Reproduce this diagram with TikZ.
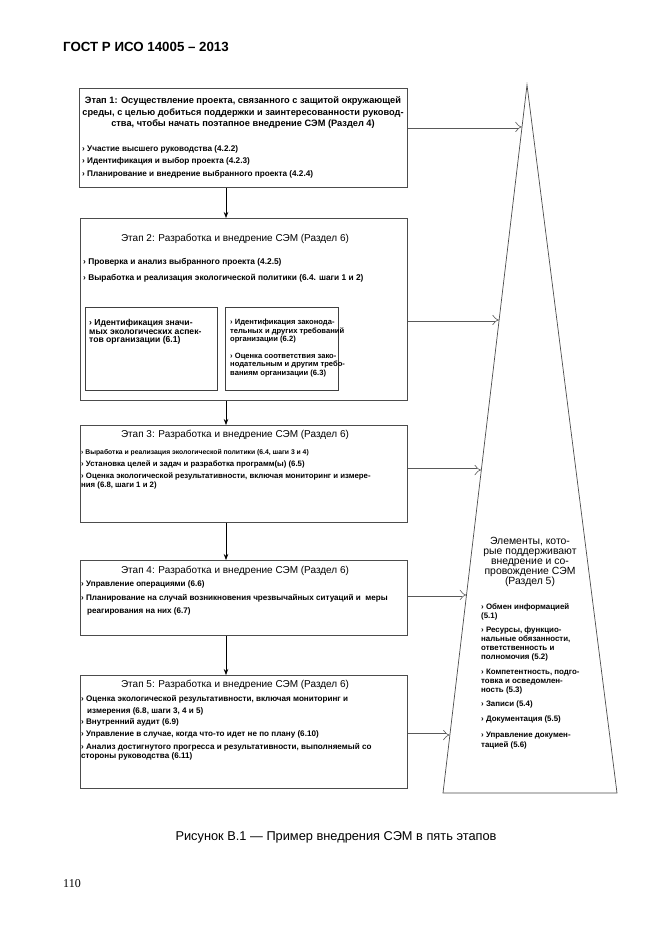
\documentclass[tikz,border=0pt]{standalone}
\usepackage{fontspec}
\setmainfont{Liberation Sans}
\newfontfamily\pnserif{Liberation Serif}
\usetikzlibrary{arrows.meta,calc}
\newcommand\fsb[1]{\fontsize{#1}{9}\selectfont\bfseries}
\begin{document}
\begin{tikzpicture}[x=1pt,y=-1pt,
  box/.style={draw=black!70,line width=0.9pt,fill=white,anchor=north west,inner sep=0},
  sbox/.style={draw=black!75,line width=1.1pt,anchor=north west,inner sep=0},
  tl/.style={anchor=west,inner sep=0,font=\fsb{8.1}},
  tt/.style={anchor=center,inner sep=0,font=\fontsize{10}{12}\selectfont},
  darr/.style={draw=black,line width=0.7pt,-{Stealth[length=6pt,width=4.5pt]}},
  harr/.style={draw=black!65,double,double distance=3pt,line width=0.6pt,-{Implies[length=5pt,width=9pt]}},
  tri/.style={draw=black!70,line width=0.7pt},
]
\useasboundingbox[fill=white] (0,0) rectangle (661,936);

% header
\node[anchor=west,inner sep=0,font=\fontsize{13.3}{15}\selectfont\bfseries] (hdr) at (63,47) {ГОСТ Р ИСО 14005 – 2013};

% boxes
\node[box,minimum width=328pt,minimum height=99pt] (b1) at (79,88) {};
\node[box,minimum width=327pt,minimum height=182pt] (b2) at (80,218) {};
\node[box,minimum width=327pt,minimum height=97pt] (b3) at (80,425) {};
\node[box,minimum width=327pt,minimum height=75pt] (b4) at (80,560) {};
\node[box,minimum width=327pt,minimum height=113pt] (b5) at (80,675) {};
\node[sbox,minimum width=132pt,minimum height=83pt] (sl) at (85,307) {};
\node[sbox,minimum width=113pt,minimum height=83pt] (sr) at (225,307) {};

% triangle
\coordinate (apex) at (527,85);
\coordinate (tbl) at (443,793);
\coordinate (tbr) at (617,793);
\draw[tri] (apex) -- (tbl) -- (tbr) -- cycle;

% box 1 text
\node[anchor=center,inner sep=0,align=center,font=\fontsize{9.25}{11.5}\selectfont\bfseries] (b1t) at (243,113)
  {Этап 1: Осуществление проекта, связанного с защитой окружающей\\
   среды, с целью добиться поддержки и заинтересованности руковод-\\
   ства, чтобы начать поэтапное внедрение СЭМ (Раздел 4)};
\node[tl,font=\fsb{8.2}] (b1i1) at (82,149) {› Участие высшего руководства (4.2.2)};
\node[tl,font=\fsb{8.2}] (b1i2) at (82,161) {› Идентификация и выбор проекта (4.2.3)};
\node[tl,font=\fsb{8.2}] (b1i3) at (82,174) {› Планирование и внедрение выбранного проекта (4.2.4)};

% box 2 text
\node[tt] (b2t) at (235,239) {Этап 2: Разработка и внедрение СЭМ (Раздел 6)};
\node[tl,font=\fsb{8.35}] (b2i1) at (83,262) {› Проверка и анализ выбранного проекта (4.2.5)};
\node[tl,font=\fsb{8.35}] (b2i2) at (83,278) {› Выработка и реализация экологической политики (6.4. шаги 1 и 2)};
\node[anchor=north west,inner sep=0,align=left,font=\fontsize{8.6}{8.6}\selectfont\bfseries] (slt) at (89,319)
  {› Идентификация значи-\\мых экологических аспек-\\тов организации (6.1)};
\node[anchor=north west,inner sep=0,align=left,font=\fontsize{7.6}{8.4}\selectfont\bfseries] (srt1) at (230,319)
  {› Идентификация законода-\\тельных и других требований\\организации (6.2)};
\node[anchor=north west,inner sep=0,align=left,font=\fontsize{7.6}{8.4}\selectfont\bfseries] (srt2) at (230,353)
  {› Оценка соответствия зако-\\нодательным и другим требо-\\ваниям организации (6.3)};

% box 3 text
\node[tt] (b3t) at (235,435) {Этап 3: Разработка и внедрение СЭМ (Раздел 6)};
\node[tl,font=\fsb{6.8}] (b3i1) at (81,453) {› Выработка и реализация экологической политики (6.4, шаги 3 и 4)};
\node[tl,font=\fsb{7.8}] (b3i2) at (81,464) {› Установка целей и задач и разработка программ(ы) (6.5)};
\node[tl,font=\fsb{7.8}] (b3i3) at (81,476) {› Оценка экологической результативности, включая мониторинг и измере-};
\node[tl,font=\fsb{7.8}] (b3i3b) at (81,485) {ния (6.8, шаги 1 и 2)};

% box 4 text
\node[tt] (b4t) at (235,571) {Этап 4: Разработка и внедрение СЭМ (Раздел 6)};
\node[tl] (b4i1) at (81,584) {› Управление операциями (6.6)};
\node[tl] (b4i2) at (81,598) {› Планирование на случай возникновения чрезвычайных ситуаций и\ \ меры};
\node[tl] (b4i2b) at (87,611) {реагирования на них (6.7)};

% box 5 text
\node[tt] (b5t) at (235,685) {Этап 5: Разработка и внедрение СЭМ (Раздел 6)};
\node[tl] (b5i1) at (81,699) {› Оценка экологической результативности, включая мониторинг и};
\node[tl] (b5i1b) at (87,711) {измерения (6.8, шаги 3, 4 и 5)};
\node[tl] (b5i2) at (81,722) {› Внутренний аудит (6.9)};
\node[tl] (b5i3) at (81,734) {› Управление в случае, когда что-то идет не по плану (6.10)};
\node[tl] (b5i4) at (81,747) {› Анализ достигнутого прогресса и результативности, выполняемый со};
\node[tl] (b5i4b) at (81,756) {стороны руководства (6.11)};

% triangle text
\node[anchor=center,inner sep=0,align=center,font=\fontsize{10.4}{10}\selectfont] (trt) at (530,562)
  {Элементы, кото-\\рые поддерживают\\внедрение и со-\\провождение СЭМ\\(Раздел 5)};
\tikzset{ti/.style={anchor=west,inner sep=0,align=left,font=\fontsize{7.9}{9.2}\selectfont\bfseries}}
\node[ti] (ti1) at (481,612) {› Обмен информацией\\(5.1)};
\node[ti] (ti2) at (481,644) {› Ресурсы, функцио-\\нальные обязанности,\\ответственность и\\полномочия (5.2)};
\node[ti] (ti3) at (481,681.5) {› Компетентность, подго-\\товка и осведомлен-\\ность (5.3)};
\node[ti] (ti4) at (481,704) {› Записи (5.4)};
\node[ti] (ti5) at (481,719) {› Документация (5.5)};
\node[ti] (ti6) at (481,740.5) {› Управление докумен-\\тацией (5.6)};

% down arrows
\coordinate (ax) at (226,0);
\draw[darr] (b1.south -| ax) -- (b2.north -| ax);
\draw[darr] (b2.south -| ax) -- (b3.north -| ax);
\draw[darr] (b3.south -| ax) -- (b4.north -| ax);
\draw[darr] (b4.south -| ax) -- (b5.north -| ax);

% hollow arrows to triangle
\path (apex) -- (tbl) coordinate[pos=0.0593] (h1) coordinate[pos=0.3319] (h2) coordinate[pos=0.5438] (h3) coordinate[pos=0.7203] (h4) coordinate[pos=0.9181] (h5);
\draw[harr] (b1.east |- h1) -- (h1);
\draw[harr] (b2.east |- h2) -- (h2);
\draw[harr] (b3.east |- h3) -- (h3);
\draw[harr] (b4.east |- h4) -- (h4);
\draw[harr] (b5.east |- h5) -- (h5);

% caption and page number
\node[anchor=center,inner sep=0,font=\fontsize{12.8}{15}\selectfont] (cap) at (336,837) {Рисунок В.1 — Пример внедрения СЭМ в пять этапов};
\node[anchor=west,inner sep=0,font=\pnserif\fontsize{12}{14}\selectfont] (pn) at (63,884) {110};
\end{tikzpicture}
\end{document}
